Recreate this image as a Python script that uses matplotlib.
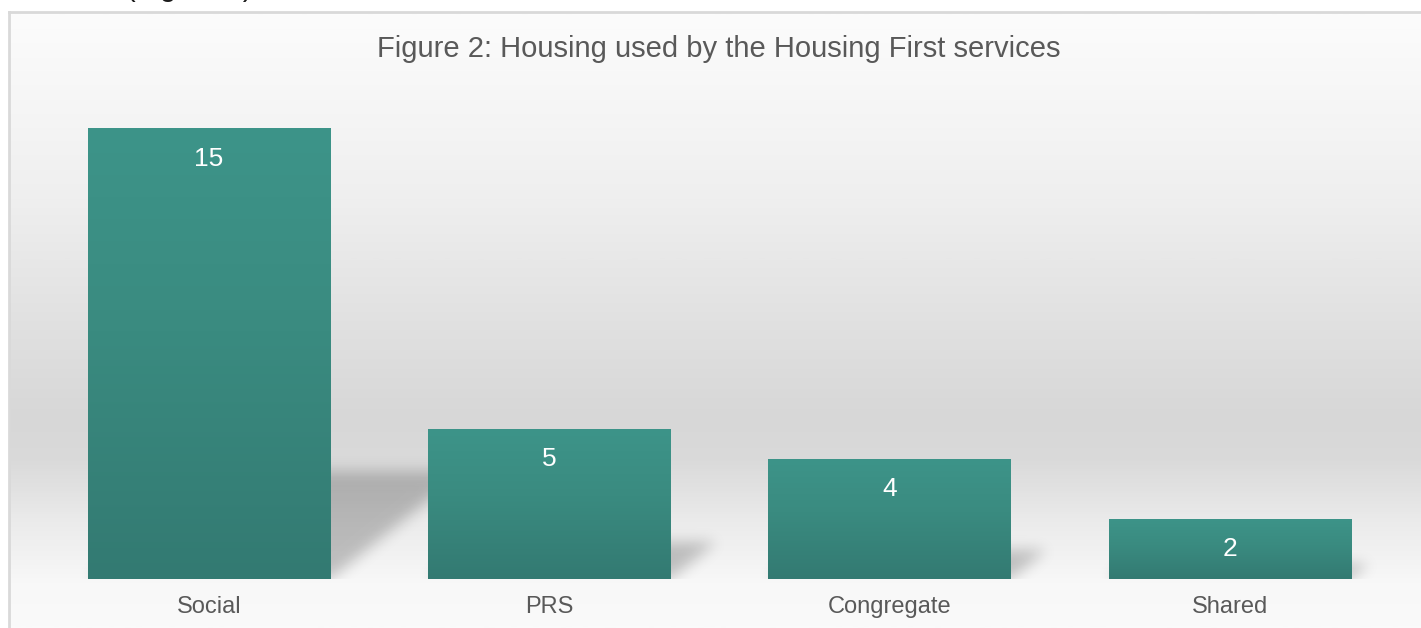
import matplotlib
matplotlib.use("Agg")
import matplotlib.pyplot as plt
import numpy as np
from matplotlib.colors import LinearSegmentedColormap

plt.rcParams['font.family'] = ['Liberation Sans', 'DejaVu Sans']

categories = ['Social', 'PRS', 'Congregate', 'Shared']
counts = [15, 5, 4, 2]
title = 'Figure 2: Housing used by the Housing First services'

W, H = 1421, 628
BAR_W = 0.712
YMAX = 16


def blur(a, sigma):
    r = int(3 * sigma)
    k = np.exp(-0.5 * (np.arange(-r, r + 1) / sigma) ** 2)
    k /= k.sum()
    a = np.apply_along_axis(lambda v: np.convolve(v, k, mode='same'), 0, a)
    a = np.apply_along_axis(lambda v: np.convolve(v, k, mode='same'), 1, a)
    return a


fig = plt.figure(figsize=(W / 100, H / 100), dpi=100)
fig.patch.set_facecolor('white')

# background panel with a vertical grey gradient, in pixel coordinates
bg = fig.add_axes([0, 0, 1, 1])
bg.set_xlim(0, W)
bg.set_ylim(H, 0)
bg.axis('off')
stops = [(0.0, '#fcfcfc'), (0.30, '#efefef'), (0.50, '#e1e1e1'),
         (0.66, '#d7d7d7'), (0.73, '#dadada'), (0.83, '#ebebeb'),
         (0.93, '#f8f8f8'), (1.0, '#fafafa')]
bg_cmap = LinearSegmentedColormap.from_list('bg', stops)
grad = np.linspace(0, 1, 400).reshape(-1, 1)
bg.imshow(grad, cmap=bg_cmap, extent=[10, W, H, 13], aspect='auto',
          interpolation='bilinear', zorder=0)
bg.plot([9, 9], [12, H], color='#d9d9d9', lw=2, zorder=1)
bg.plot([9, W], [12, 12], color='#d9d9d9', lw=2, zorder=1)

# text of the page above the chart, mostly cut off
fig.text(126 / W, 1 + 3.5 / H, '(Figure 2)', fontsize=21, color='#1a1a1a',
         ha='left', va='baseline')

fig.text(719 / W, 1 - 49 / H, title, fontsize=21, color='#595959',
         ha='center', va='center')

ax = fig.add_axes([39 / W, 49 / H, 1361 / W, 481 / H])
ax.set_facecolor('none')
ax.set_xlim(-0.5, len(categories) - 0.5)
ax.set_ylim(0, YMAX)
x = np.arange(len(categories))

# soft floor shadows thrown up and to the right of each bar
nx, ny = 1361, 481
gx = np.linspace(-0.5, len(categories) - 0.5, nx)
gy = np.linspace(0, YMAX, ny)
GX, GY = np.meshgrid(gx, gy)
px_x = 1361 / len(categories)
px_y = 481 / YMAX
k, s = 0.3, 0.24
mask = np.zeros_like(GX)
for xi, v in zip(x, counts):
    t = GY / s
    xs = GX - k * t * px_y / px_x
    inside = (GY <= s * v) & (xs >= xi - BAR_W / 2) & (xs <= xi + BAR_W / 2)
    mask = np.maximum(mask, inside.astype(float))
mask = blur(mask, 7)
shadow = np.zeros((ny, nx, 4))
shadow[..., 3] = mask * 0.22
ax.imshow(shadow, extent=[gx[0], gx[-1], 0, YMAX], origin='lower',
          aspect='auto', zorder=1, interpolation='bilinear')

bar_cmap = LinearSegmentedColormap.from_list(
    'bar', [(0.0, '#337a72'), (0.55, '#3a8b80'), (1.0, '#3d9489')])
bars = ax.bar(x, counts, width=BAR_W, color='none', zorder=2)
for b in bars:
    x0, y0 = b.get_x(), b.get_y()
    img = ax.imshow(np.linspace(0, 1, 200).reshape(-1, 1), cmap=bar_cmap,
                    extent=[x0, x0 + b.get_width(), y0, y0 + b.get_height()],
                    origin='lower', aspect='auto', zorder=2,
                    interpolation='bilinear')
    img.set_clip_path(b)

for xi, v in zip(x, counts):
    ax.annotate(str(v), (xi, v), xytext=(0, -22), textcoords='offset points',
                ha='center', va='center', color='white', fontsize=19,
                zorder=3)

ax.set_xlim(-0.5, len(categories) - 0.5)
ax.set_ylim(0, YMAX)
ax.set_xticks(x)
ax.set_xticklabels(categories, fontsize=17, color='#595959')
ax.tick_params(axis='x', length=0, pad=12)
ax.set_yticks([])
for sp in ax.spines.values():
    sp.set_visible(False)

fig.savefig('out.png', dpi=100)
